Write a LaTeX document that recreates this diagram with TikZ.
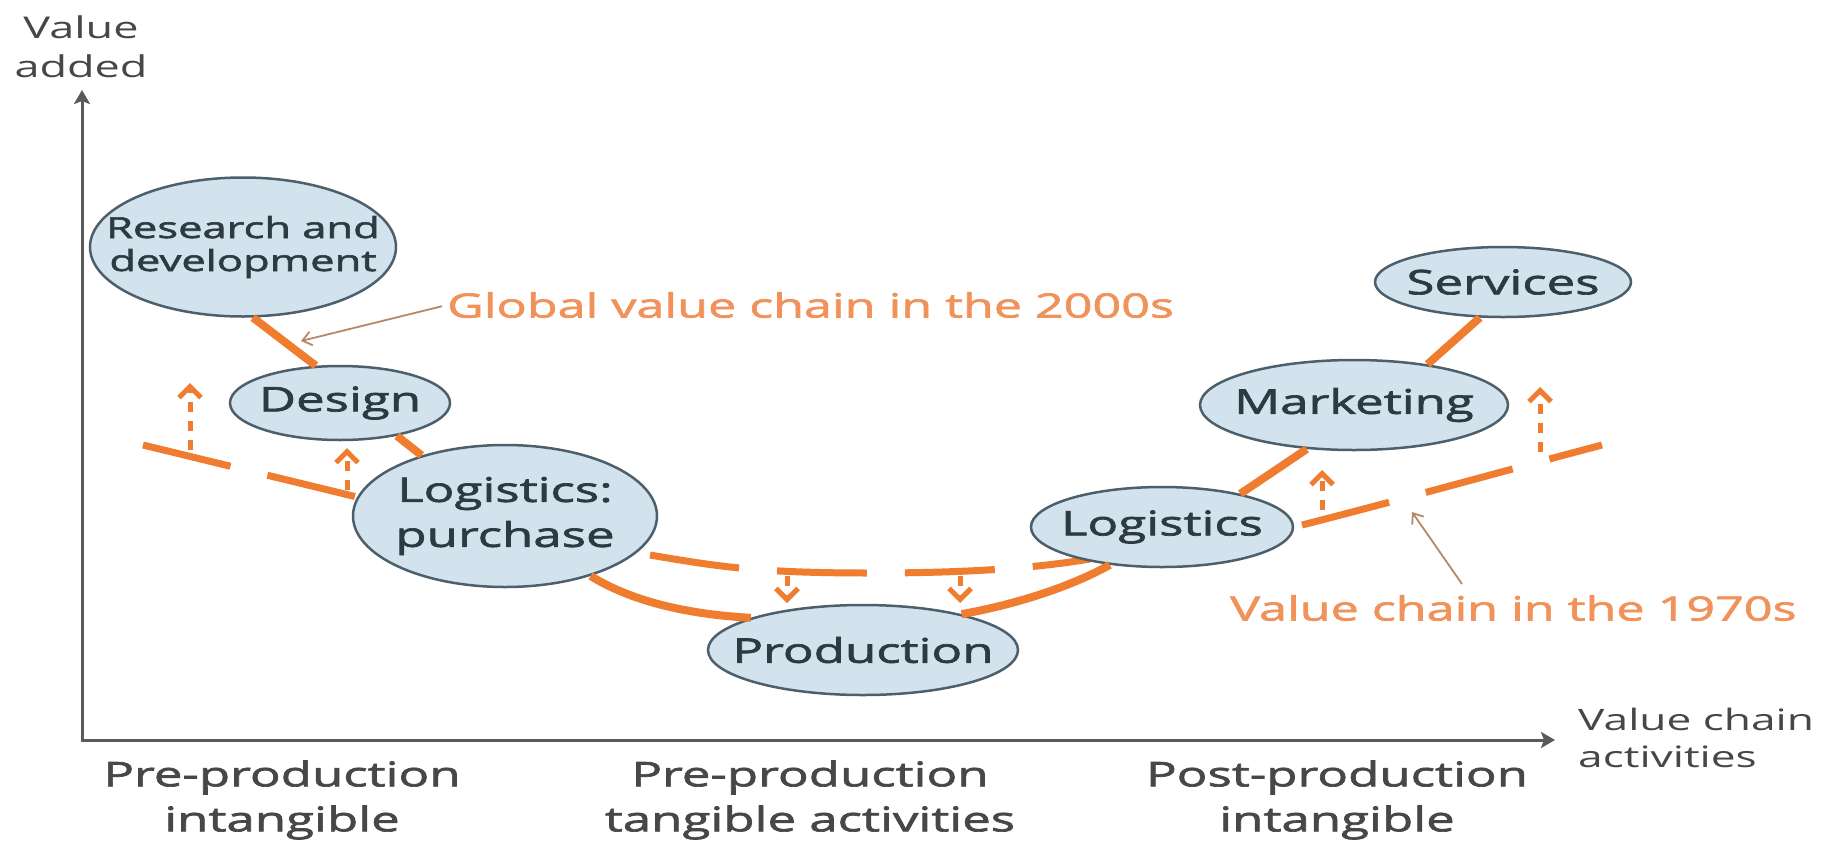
\documentclass[tikz,border=0pt]{standalone}
\usepackage{fontspec}
\setmainfont{Open Sans}[FakeStretch=1.5]
\newfontfamily\semib{Open Sans}[FakeStretch=1.5,FakeBold=2]
\usetikzlibrary{shapes.geometric,arrows.meta}
\definecolor{orng}{HTML}{F07C30}
\definecolor{anno}{HTML}{F0925A}
\definecolor{annoline}{HTML}{B8876A}
\definecolor{blobfill}{HTML}{D3E3EE}
\definecolor{blobline}{HTML}{4E5F6C}
\definecolor{ink}{HTML}{2E3A42}
\definecolor{axisgray}{HTML}{5A5A5A}
\definecolor{labelgray}{HTML}{474747}
\begin{document}
\begin{tikzpicture}[x=1pt,y=-1pt,
  blob/.style={ellipse, draw=blobline, line width=2.5pt, fill=blobfill, inner sep=0pt},
  blobtxt/.style={text=ink, align=center, font=\semib\fontsize{34}{45}\selectfont, inner sep=0pt},
  chain/.style={draw=orng, line width=8pt},
  oldchain/.style={draw=orng, line width=7pt, dash pattern=on 90pt off 38pt},
  shiftarrow/.style={draw=orng, line width=5pt, dash pattern=on 10pt off 9pt, -{Straight Barb[length=11pt,width=22pt]}},
  annot/.style={text=anno, font=\semib\fontsize{33.5}{40}\selectfont, inner sep=0pt, anchor=west},
  annoarrow/.style={draw=annoline, line width=1.8pt, -{Straight Barb[length=9pt,width=14pt]}},
  axisline/.style={draw=axisgray, line width=3pt, {Stealth[length=14pt,width=16pt,inset=3pt]}-{Stealth[length=14pt,width=16pt,inset=3pt]}},
  axlabel/.style={text=labelgray, align=center, inner sep=0pt},
]
\fill[white] (0,0) rectangle (1824,844);
\useasboundingbox (0,0) rectangle (1824,844);

% axes
\coordinate (O) at (82,740);
\coordinate (ytip) at (82,90);
\coordinate (xtip) at (1555,740);
\draw[axisline] (ytip) -- (O) -- (xtip);

\node[axlabel, font=\fontsize{30}{39}\selectfont] (vadd) at (81,47) {Value\\added};
\node[axlabel, font=\fontsize{29.5}{37}\selectfont, align=left, anchor=west] (vca) at (1578,738) {Value chain\\activities};
\node[axlabel, font=\semib\fontsize{34}{45}\selectfont] (b1) at (282,800) {Pre-production\\intangible};
\node[axlabel, font=\semib\fontsize{34}{45}\selectfont] (b2) at (810,800) {Pre-production\\tangible activities};
\node[axlabel, font=\semib\fontsize{34}{45}\selectfont] (b3) at (1337,800) {Post-production\\intangible};

% value chain in the 1970s (dashed)
\draw[oldchain] (143,445) -- (357,497);
\draw[oldchain] (650,555) .. controls (720,567) and (760,573) .. (870,573) .. controls (960,573) and (1030,569) .. (1090,559);
\draw[oldchain] (1302,525) .. controls (1400,500) and (1500,472) .. (1602,445);

% activities
\node[blob, minimum width=306pt, minimum height=139pt, label={[blobtxt, font=\semib\fontsize{29}{33}\selectfont]center:{Research and\\development}}] (rd) at (243,247) {};
\node[blob, minimum width=220pt, minimum height=74pt, label={[blobtxt]center:Design}] (design) at (340,403) {};
\node[blob, minimum width=304pt, minimum height=142pt, label={[blobtxt]center:{Logistics:\\purchase}}] (lp) at (505,516) {};
\node[blob, minimum width=310pt, minimum height=90pt, label={[blobtxt]center:Production}] (prod) at (863,650) {};
\node[blob, minimum width=262pt, minimum height=80pt, label={[blobtxt]center:Logistics}] (log) at (1162,527) {};
\node[blob, minimum width=308pt, minimum height=90pt, label={[blobtxt]center:Marketing}] (mkt) at (1354,405) {};
\node[blob, minimum width=256pt, minimum height=70pt, label={[blobtxt]center:Services}] (svc) at (1503,282) {};

% global value chain in the 2000s (solid)
\draw[chain] (rd.-82) -- (design.123);
\draw[chain] (design.-30) -- (lp.144);
\draw[chain] (lp.-35) .. controls +(45,28) and +(-55,-3) .. (prod.164);
\draw[chain] (prod.20) .. controls +(45,-8) and +(-45,25) .. (log.-144);
\draw[chain] (log.23) -- (mkt.-137);
\draw[chain] (mkt.29) -- (svc.-123);

% shift arrows
\coordinate (a1s) at (190,450); \coordinate (a1e) at (190,383);
\coordinate (a2s) at (347,490); \coordinate (a2e) at (347,448);
\coordinate (a3s) at (787,576); \coordinate (a3e) at (787,603);
\coordinate (a4s) at (960,576); \coordinate (a4e) at (960,603);
\coordinate (a5s) at (1322,510); \coordinate (a5e) at (1322,470);
\coordinate (a6s) at (1540,452); \coordinate (a6e) at (1540,387);
\draw[shiftarrow] (a1s) -- (a1e);
\draw[shiftarrow] (a2s) -- (a2e);
\draw[shiftarrow] (a3s) -- (a3e);
\draw[shiftarrow] (a4s) -- (a4e);
\draw[shiftarrow] (a5s) -- (a5e);
\draw[shiftarrow] (a6s) -- (a6e);

% annotations
\node[annot] (t2000) at (447,305) {Global value chain in the 2000s};
\node[annot] (t1970) at (1230,608) {Value chain in the 1970s};
\coordinate (g1) at (301,341);
\draw[annoarrow, shorten <=5pt] (t2000.west) -- (g1);
\coordinate (v0) at (1462,584);
\coordinate (v1) at (1412,512);
\draw[annoarrow] (v0) -- (v1);
\end{tikzpicture}
\end{document}
